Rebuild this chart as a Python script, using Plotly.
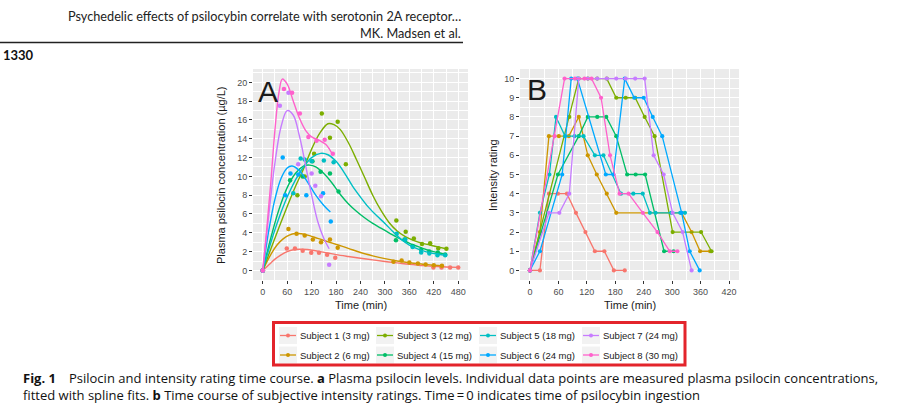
import plotly.graph_objects as go

W, H = 905, 404

SUBJECTS = ["Subject 1 (3 mg)", "Subject 2 (6 mg)", "Subject 3 (12 mg)", "Subject 4 (15 mg)",
            "Subject 5 (18 mg)", "Subject 6 (24 mg)", "Subject 7 (24 mg)", "Subject 8 (30 mg)"]
COLORS = ["#F8766D", "#CD9600", "#7CAE00", "#00BE67", "#00BFC4", "#00A9FF", "#C77CFF", "#FF61CC"]

# ---- Panel A: measured plasma psilocin (time min, concentration ug/L)
pk_t_s1 = [0, 59, 79, 98, 119, 138, 158, 178, 419, 439, 460, 480]
pk_c_s1 = [0, 2.34, 2.34, 2.1, 1.87, 1.87, 1.66, 1.34, 0.32, 0.32, 0.32, 0.32]
pk_t_s2 = [0, 63, 83, 103, 123, 143, 165, 184, 321, 341, 360, 381, 400, 420, 440]
pk_c_s2 = [0, 4.4, 3.9, 3.7, 3.3, 3.0, 3.3, 2.4, 0.92, 1.05, 0.85, 0.74, 0.64, 0.55, 0.5]
pk_t_s3 = [0, 85, 103, 126, 145, 165, 184, 204, 328, 351, 371, 391, 411, 431, 451]
pk_c_s3 = [0, 8.0, 10.0, 12.4, 16.7, 14.1, 15.8, 11.3, 5.3, 4.1, 3.4, 2.8, 2.9, 2.35, 2.3]
pk_t_s4 = [0, 67, 98, 122, 142, 165, 186, 327, 348, 368, 389, 409, 430, 448]
pk_c_s4 = [0, 9.6, 10.0, 11.6, 10.5, 10.3, 8.4, 3.2, 3.3, 2.6, 2.2, 2.0, 1.9, 1.7]
pk_t_s5 = [0, 75, 93, 103, 120, 150, 174, 329, 350, 368, 389, 409, 429, 448]
pk_c_s5 = [0, 8.2, 11.9, 11.8, 11.6, 11.7, 11.5, 3.9, 3.3, 2.5, 1.9, 1.8, 1.6, 1.6]
pk_t_s6 = [0, 49, 55, 68, 87, 107, 148, 167]
pk_c_s6 = [0, 12.0, 8.0, 10.3, 10.2, 8.0, 8.2, 5.2]
pk_t_s7 = [0, 42, 63, 87, 120, 129, 143, 163]
pk_c_s7 = [0, 17.5, 18.9, 11.3, 10.3, 9.0, 7.9, 0.6]
pk_t_s8 = [0, 52, 72, 91, 112, 132, 152, 172]
pk_c_s8 = [0, 19.3, 18.9, 16.7, 14.2, 13.8, 13.9, 12.4]

# ---- Panel A: spline fits
fit_t_s1 = [0, 10, 20, 30, 45, 60, 75, 90, 110, 135, 160, 180, 210, 240, 270, 300, 330, 360, 390, 420, 450, 480]
fit_c_s1 = [0, 0.4, 0.8, 1.2, 1.65, 2.0, 2.2, 2.25, 2.22, 2.05, 1.85, 1.68, 1.48, 1.3, 1.12, 0.95, 0.8, 0.64, 0.53, 0.43, 0.37, 0.32]
fit_t_s2 = [0, 10, 20, 35, 50, 65, 80, 95, 115, 135, 160, 185, 210, 240, 270, 300, 330, 360, 390, 420, 445]
fit_c_s2 = [0, 0.9, 1.7, 2.7, 3.35, 3.75, 3.92, 3.9, 3.7, 3.4, 3.05, 2.7, 2.35, 1.9, 1.55, 1.25, 1.0, 0.82, 0.68, 0.55, 0.48]
fit_t_s3 = [0, 20, 40, 60, 80, 100, 120, 140, 160, 175, 190, 210, 230, 250, 270, 290, 310, 330, 350, 370, 390, 410, 430, 450]
fit_c_s3 = [0, 2.3, 4.6, 6.8, 8.9, 10.8, 12.9, 14.6, 15.6, 15.5, 15.0, 13.6, 11.8, 9.9, 8.0, 6.4, 5.1, 4.2, 3.6, 3.2, 2.9, 2.7, 2.5, 2.3]
fit_t_s4 = [0, 20, 40, 60, 80, 100, 115, 130, 150, 170, 190, 210, 230, 250, 270, 290, 310, 330, 350, 370, 390, 410, 430, 448]
fit_c_s4 = [0, 3.5, 6.5, 8.8, 10.3, 11.1, 11.2, 11.0, 10.3, 9.3, 8.1, 7.1, 6.3, 5.6, 5.0, 4.5, 4.0, 3.5, 3.1, 2.7, 2.4, 2.1, 1.9, 1.7]
fit_t_s5 = [0, 20, 40, 60, 80, 100, 120, 142, 160, 180, 200, 220, 240, 260, 280, 300, 320, 340, 360, 380, 400, 420, 448]
fit_c_s5 = [0, 3.0, 5.6, 7.8, 9.6, 11.0, 12.0, 12.45, 12.3, 11.6, 10.4, 9.0, 7.8, 6.7, 5.8, 5.0, 4.1, 3.3, 2.7, 2.3, 2.0, 1.8, 1.6]
fit_t_s6 = [0, 15, 30, 45, 60, 72, 90, 110, 130, 150, 166]
fit_c_s6 = [0, 4.3, 7.6, 9.8, 10.9, 11.1, 10.6, 9.4, 8.0, 6.9, 6.2]
fit_t_s7 = [0, 15, 30, 45, 60, 75, 90, 105, 120, 135, 150, 163]
fit_c_s7 = [0, 6.0, 11.5, 15.3, 17.0, 16.5, 14.3, 11.2, 8.0, 5.2, 3.4, 2.3]
fit_t_s8 = [0, 10, 20, 30, 40, 48, 60, 75, 90, 105, 120, 140, 155, 165, 172]
fit_c_s8 = [0, 4.5, 9.5, 15.0, 19.0, 20.35, 19.8, 18.0, 16.2, 14.9, 14.2, 13.8, 13.4, 12.8, 12.3]

# ---- Panel B: intensity ratings (time min, rating 0-10)
int_t_s1 = [0, 21, 40, 59, 78, 97, 117, 137, 157, 177, 200]
int_r_s1 = [0, 0, 4, 4, 4, 3, 2, 1, 1, 0, 0]
int_t_s2 = [0, 21, 40, 61, 82, 103, 122, 141, 162, 182, 320, 341, 359, 380]
int_r_s2 = [0, 2, 7, 7, 7, 8, 6, 5, 4, 3, 3, 2, 1, 1]
int_t_s3 = [0, 83, 103, 122, 142, 162, 182, 202, 222, 242, 263, 301, 361, 383]
int_r_s3 = [0, 8, 10, 10, 10, 10, 9, 9, 9, 8, 7, 2, 2, 1]
int_t_s4 = [0, 59, 103, 122, 142, 161, 182, 205, 223, 243, 283, 303]
int_r_s4 = [0, 5, 7, 8, 8, 8, 7, 5, 5, 5, 1, 1]
int_t_s5 = [0, 21, 41, 55, 74, 94, 113, 137, 155, 192, 218, 238, 253, 265, 298, 317, 327]
int_r_s5 = [0, 3, 5, 8, 7, 7, 7, 6, 6, 4, 4, 4, 3, 3, 3, 3, 3]
int_t_s6 = [0, 21, 68, 87, 100, 160, 176, 200, 220, 240, 259, 279, 320, 337, 358]
int_r_s6 = [0, 1, 5, 10, 10, 5, 5, 10, 9, 9, 8, 7, 3, 1, 0]
int_t_s7 = [0, 40, 62, 83, 103, 122, 142, 162, 182, 202, 222, 242, 261, 282, 301, 322, 341]
int_r_s7 = [0, 3, 3, 4, 10, 10, 10, 10, 10, 10, 10, 10, 6, 5, 3, 2, 0]
int_t_s8 = [0, 52, 73, 95, 115, 130, 150, 169, 189, 208, 238, 269, 295, 311]
int_r_s8 = [0, 7, 10, 10, 10, 10, 9, 6, 4, 4, 3, 2, 1, 1]

PK_T = [pk_t_s1, pk_t_s2, pk_t_s3, pk_t_s4, pk_t_s5, pk_t_s6, pk_t_s7, pk_t_s8]
PK_C = [pk_c_s1, pk_c_s2, pk_c_s3, pk_c_s4, pk_c_s5, pk_c_s6, pk_c_s7, pk_c_s8]
FIT_T = [fit_t_s1, fit_t_s2, fit_t_s3, fit_t_s4, fit_t_s5, fit_t_s6, fit_t_s7, fit_t_s8]
FIT_C = [fit_c_s1, fit_c_s2, fit_c_s3, fit_c_s4, fit_c_s5, fit_c_s6, fit_c_s7, fit_c_s8]
INT_T = [int_t_s1, int_t_s2, int_t_s3, int_t_s4, int_t_s5, int_t_s6, int_t_s7, int_t_s8]
INT_R = [int_r_s1, int_r_s2, int_r_s3, int_r_s4, int_r_s5, int_r_s6, int_r_s7, int_r_s8]

A_XTICKS = [0, 60, 120, 180, 240, 300, 360, 420, 480]
A_YTICKS = [0, 2, 4, 6, 8, 10, 12, 14, 16, 18, 20]
B_XTICKS = [0, 60, 120, 180, 240, 300, 360, 420]
B_YTICKS = list(range(0, 11))

HEADER_1 = "Psychedelic effects of psilocybin correlate with serotonin 2A receptor\u2026"
HEADER_2 = "MK. Madsen et al."
PAGE_NO = "1330"
CAPTION = ("<b>Fig. 1</b>\u2003Psilocin and intensity rating time course. <b>a</b> Plasma psilocin levels. "
           "Individual data points are measured plasma psilocin concentrations,<br>"
           "fitted with spline fits. <b>b</b> Time course of subjective intensity ratings. "
           "Time\u2009=\u20090 indicates time of psilocybin ingestion")


def px(x):
    return x / W


def py(y):
    return 1 - y / H


fig = go.Figure()

for i in range(8):
    c = COLORS[i]
    fig.add_trace(go.Scatter(x=FIT_T[i], y=FIT_C[i], mode="lines", xaxis="x", yaxis="y",
                             line=dict(color=c, width=1.4, shape="spline", smoothing=1.0),
                             showlegend=False, hoverinfo="skip"))
    fig.add_trace(go.Scatter(x=PK_T[i], y=PK_C[i], mode="markers", xaxis="x", yaxis="y",
                             marker=dict(color=c, size=4.5), name=SUBJECTS[i], showlegend=False))
    fig.add_trace(go.Scatter(x=INT_T[i], y=INT_R[i], mode="lines+markers", xaxis="x2", yaxis="y2",
                             line=dict(color=c, width=1.3), marker=dict(color=c, size=4.2),
                             name=SUBJECTS[i], showlegend=False))

tickfont = dict(family="Liberation Sans, Arial, sans-serif", size=9, color="#4D4D4D")
common_axis = dict(showline=False, zeroline=False, showgrid=True, gridcolor="white", gridwidth=1.1,
                   ticks="outside", ticklen=3, tickwidth=1, tickcolor="#333333",
                   tickfont=tickfont, fixedrange=True)

fig.update_layout(
    width=W, height=H, margin=dict(l=0, r=0, t=0, b=0),
    paper_bgcolor="white", plot_bgcolor="#EBEBEB", showlegend=False,
    xaxis=dict(domain=[px(253), px(468)], range=[-24, 504], tickvals=A_XTICKS, anchor="y",
               minor=dict(tick0=30, dtick=60, showgrid=True, gridcolor="white", gridwidth=0.5, ticks=""),
               **common_axis),
    yaxis=dict(domain=[py(280), py(69)], range=[-1.02, 21.42], tickvals=A_YTICKS, anchor="x",
               minor=dict(tick0=1, dtick=2, showgrid=True, gridcolor="white", gridwidth=0.5, ticks=""),
               **common_axis),
    xaxis2=dict(domain=[px(520), px(739)], range=[-21, 441], tickvals=B_XTICKS, anchor="y2",
                minor=dict(tick0=30, dtick=60, showgrid=True, gridcolor="white", gridwidth=0.5, ticks=""),
                **common_axis),
    yaxis2=dict(domain=[py(280), py(69)], range=[-0.5, 10.5], tickvals=B_YTICKS, anchor="x2",
                minor=dict(tick0=0.5, dtick=1, showgrid=True, gridcolor="white", gridwidth=0.5, ticks=""),
                **common_axis),
)

ann = []
titlefont = dict(family="Liberation Sans, Arial, sans-serif", size=11, color="#1A1A1A")
ann.append(dict(text="Time (min)", x=px(360.5), y=py(305), xref="paper", yref="paper",
                showarrow=False, xanchor="center", yanchor="middle", font=titlefont))
ann.append(dict(text="Time (min)", x=px(629.5), y=py(305), xref="paper", yref="paper",
                showarrow=False, xanchor="center", yanchor="middle", font=titlefont))
ann.append(dict(text="Plasma psilocin concentration (\u00b5g/L)", x=px(221), y=py(175), xref="paper",
                yref="paper", showarrow=False, textangle=-90, xanchor="center", yanchor="middle",
                font=titlefont))
ann.append(dict(text="Intensity rating", x=px(493), y=py(175), xref="paper", yref="paper",
                showarrow=False, textangle=-90, xanchor="center", yanchor="middle", font=titlefont))
bigfont = dict(family="Liberation Sans, Arial, sans-serif", size=30, color="#1A1A1A")
ann.append(dict(text="A", x=px(256), y=py(92), xref="paper", yref="paper", showarrow=False,
                xanchor="left", yanchor="middle", font=bigfont))
ann.append(dict(text="B", x=px(525), y=py(90), xref="paper", yref="paper", showarrow=False,
                xanchor="left", yanchor="middle", font=bigfont))

hfont = dict(family="Lato, Open Sans, sans-serif", size=12.7, color="#222222")
ann.append(dict(text=HEADER_1, x=px(463), y=py(16), xref="paper", yref="paper", showarrow=False,
                xanchor="right", yanchor="middle", font=hfont))
ann.append(dict(text=HEADER_2, x=px(463), y=py(33), xref="paper", yref="paper", showarrow=False,
                xanchor="right", yanchor="middle", font=hfont))
ann.append(dict(text="<b>" + PAGE_NO + "</b>", x=px(1), y=py(55), xref="paper", yref="paper",
                showarrow=False, xanchor="left", yanchor="middle",
                font=dict(family="Lato, Open Sans, sans-serif", size=13, color="#111111")))
cfont = dict(family="Open Sans, Lato, sans-serif", size=13, color="#111111")
ann.append(dict(text=CAPTION, x=px(21), y=py(386), xref="paper", yref="paper", showarrow=False,
                xanchor="left", yanchor="middle", align="left", font=cfont))

shapes = []
shapes.append(dict(type="line", xref="paper", yref="paper", x0=0, x1=px(463), y0=py(42.5), y1=py(42.5),
                   line=dict(color="#222222", width=1.3)))
# legend
LEG_KEY_X = [280, 377, 480, 583]
LEG_ROW_Y = [335.5, 355]
legfont = dict(family="Liberation Sans, Arial, sans-serif", size=9.5, color="#1A1A1A")
for i in range(8):
    kx = LEG_KEY_X[i // 2]
    ky = LEG_ROW_Y[i % 2]
    shapes.append(dict(type="rect", xref="paper", yref="paper", x0=px(kx - 1), x1=px(kx + 17),
                       y0=py(ky - 8.5), y1=py(ky + 8.5), fillcolor="#F2F2F2", line=dict(width=0),
                       layer="below"))
    shapes.append(dict(type="line", xref="paper", yref="paper", x0=px(kx), x1=px(kx + 16),
                       y0=py(ky), y1=py(ky), line=dict(color=COLORS[i], width=1.3)))
    shapes.append(dict(type="circle", xref="paper", yref="paper", x0=px(kx + 6), x1=px(kx + 10),
                       y0=py(ky - 2), y1=py(ky + 2), fillcolor=COLORS[i], line=dict(width=0)))
    ann.append(dict(text=SUBJECTS[i], x=px(kx + 18), y=py(ky), xref="paper", yref="paper",
                    showarrow=False, xanchor="left", yanchor="middle", font=legfont))
shapes.append(dict(type="rect", xref="paper", yref="paper", x0=px(273.5), x1=px(685), y0=py(322.5),
                   y1=py(365), line=dict(color="#E3242B", width=3), fillcolor="rgba(0,0,0,0)"))

fig.update_layout(annotations=ann, shapes=shapes)
fig.write_html("out.html", config={"displayModeBar": False},
               post_script="document.body.style.margin='0';document.body.style.padding='0';"
                           "document.documentElement.style.overflow='hidden';")
